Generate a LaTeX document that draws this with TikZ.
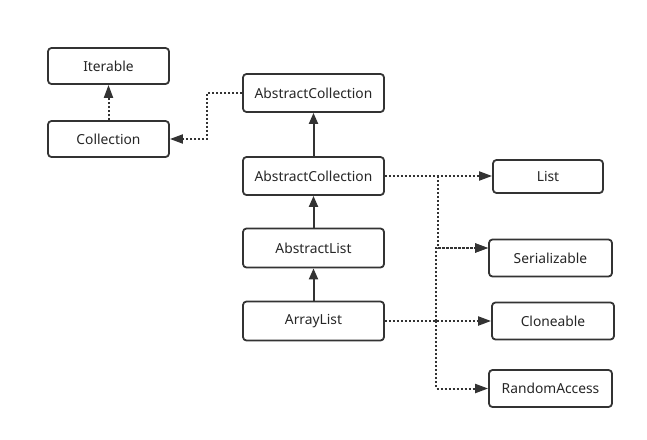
\documentclass[tikz,border=0pt]{standalone}
\usepackage{fontspec}
\setmainfont{Noto Sans}
\usetikzlibrary{arrows.meta}
\definecolor{ink}{HTML}{333333}
\begin{document}
\begin{tikzpicture}[x=1pt,y=-1pt,
  cls/.style={draw=ink,line width=1.8pt,rounded corners=3.5pt,fill=white,
    inner sep=0pt,font=\fontsize{13.8}{16}\selectfont,text=black!85},
  inherit/.style={draw=ink,line width=2pt,-{Triangle[length=11pt,width=9pt]}},
  realize/.style={draw=ink,line width=2pt,dash pattern=on 2pt off 2pt,
    -{Triangle[length=13pt,width=9pt]}}]
\fill[white] (0,0) rectangle (647,439);
\useasboundingbox (0,0) rectangle (647,439);
% classes
\node[cls,minimum width=121pt,minimum height=36pt] (iter) at (108.5,66) {Iterable};
\node[cls,minimum width=121pt,minimum height=36pt] (coll) at (108.5,139) {Collection};
\node[cls,minimum width=141pt,minimum height=38pt] (acA) at (313.5,93) {AbstractCollection};
\node[cls,minimum width=141pt,minimum height=38pt] (acB) at (313.5,176) {AbstractCollection};
\node[cls,minimum width=141pt,minimum height=39pt] (alist) at (313.5,248) {AbstractList};
\node[cls,minimum width=141pt,minimum height=39pt] (arr) at (313.5,321) {ArrayList};
% interfaces
\node[cls,minimum width=110pt,minimum height=33pt] (list) at (548,176.5) {List};
\node[cls,minimum width=123pt,minimum height=37pt] (ser) at (550.5,258) {Serializable};
\node[cls,minimum width=122pt,minimum height=37pt] (clo) at (553,321) {Cloneable};
\node[cls,minimum width=123pt,minimum height=37pt] (ra) at (550.5,388.5) {RandomAccess};
% junction points of the dotted links
\coordinate (jA) at (438,176);
\coordinate (jB) at (436,321);
\coordinate (jC) at (207,93);
% solid inheritance links
\draw[inherit] (acB.north) -- (acA.south);
\draw[inherit] (alist.north) -- (acB.south);
\draw[inherit] (arr.north) -- (alist.south);
% dotted links
\draw[realize] (coll.north) -- (iter.south);
\draw[realize] (acA.west) -- (jC) |- (coll.east);
\draw[realize] (acB.east) -- (list.west |- acB.east);
\draw[realize] (jA) |- (ser.west |- 0,248);
\draw[realize] (arr.east) -- (clo.west |- arr.east);
\draw[realize] (jB) |- (ser.west |- 0,248);
\draw[realize] (jB) |- (ra.west);
\end{tikzpicture}
\end{document}
